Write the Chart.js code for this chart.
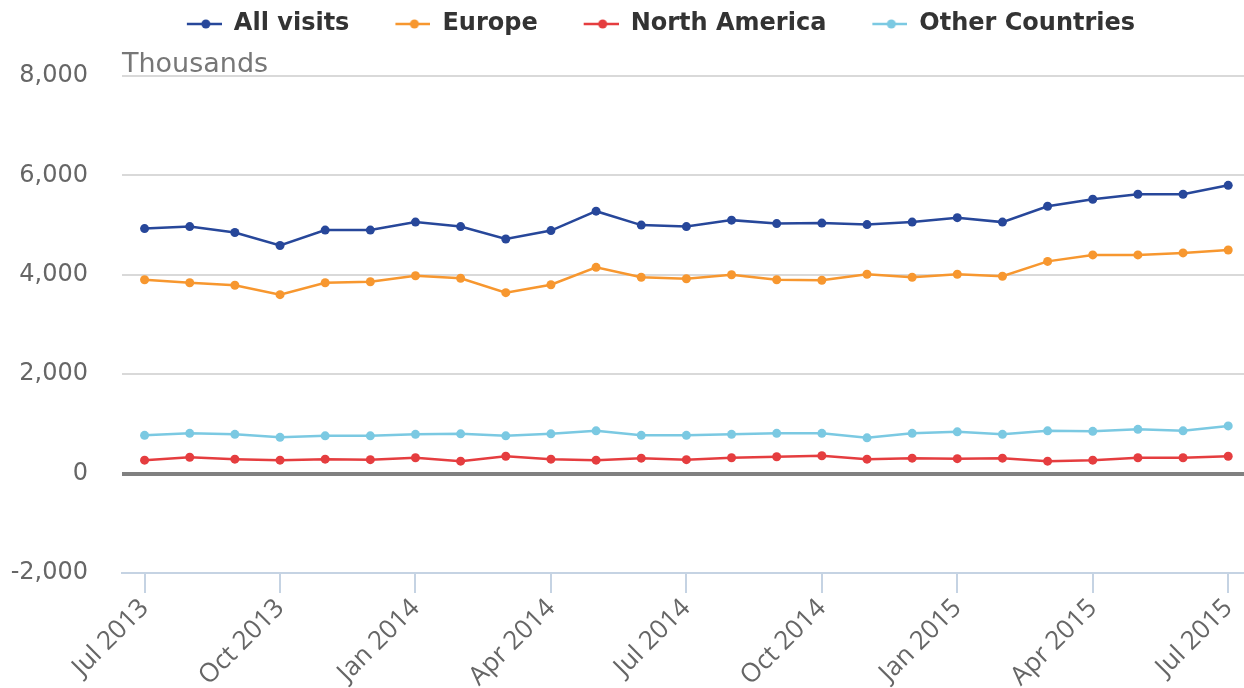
<!DOCTYPE html>
<html>
<head>
<meta charset="utf-8">
<script src="https://cdn.jsdelivr.net/npm/chart.js@4.4.1/dist/chart.umd.min.js"></script>
<style>
  html, body { margin: 0; padding: 0; background: #ffffff; overflow: hidden; }
  #wrap { width: 1244px; height: 688px; position: relative; overflow: hidden; }
  #c { display: block; }
</style>
</head>
<body>
<div id="wrap"><canvas id="c"></canvas></div>
<script>
const months = ['Jul 2013','Aug 2013','Sep 2013','Oct 2013','Nov 2013','Dec 2013','Jan 2014','Feb 2014','Mar 2014','Apr 2014','May 2014','Jun 2014','Jul 2014','Aug 2014','Sep 2014','Oct 2014','Nov 2014','Dec 2014','Jan 2015','Feb 2015','Mar 2015','Apr 2015','May 2015','Jun 2015','Jul 2015'];
const labelledMonths = ['Jul 2013','Oct 2013','Jan 2014','Apr 2014','Jul 2014','Oct 2014','Jan 2015','Apr 2015','Jul 2015'];
const yTicks = [-2000, 0, 2000, 4000, 6000, 8000];
const seriesNames = ['All visits', 'Europe', 'North America', 'Other Countries'];
const allVisits = [4930, 4970, 4850, 4590, 4900, 4900, 5060, 4970, 4720, 4890, 5280, 5000, 4970, 5100, 5030, 5040, 5010, 5060, 5150, 5060, 5380, 5520, 5620, 5620, 5800];
const europe = [3900, 3840, 3790, 3600, 3840, 3860, 3980, 3930, 3640, 3800, 4150, 3950, 3920, 4000, 3900, 3890, 4010, 3950, 4010, 3970, 4270, 4400, 4400, 4440, 4500];
const northAmerica = [270, 330, 290, 270, 290, 280, 320, 250, 350, 290, 270, 310, 280, 320, 340, 360, 290, 310, 300, 310, 250, 270, 320, 320, 350];
const otherCountries = [770, 810, 790, 730, 760, 760, 790, 800, 760, 800, 860, 770, 770, 790, 810, 810, 720, 810, 840, 790, 860, 850, 890, 860, 960];
const colors = ['#27479a', '#f7972f', '#e53d3f', '#7bc9e2'];

const seriesValues = [allVisits, europe, northAmerica, otherCountries];

function legendMarker(color) {
  const cv = document.createElement('canvas');
  cv.width = 71; cv.height = 12;
  const g = cv.getContext('2d');
  g.strokeStyle = color; g.lineWidth = 2.5;
  g.beginPath(); g.moveTo(36, 6); g.lineTo(71, 6); g.stroke();
  g.fillStyle = color;
  g.beginPath(); g.arc(55, 6, 4.5, 0, Math.PI * 2); g.fill();
  return cv;
}
const markers = colors.map(legendMarker);

const datasets = seriesNames.map((name, i) => ({
  label: name,
  data: seriesValues[i].map((v, k) => ({ x: k, y: v })),
  borderColor: colors[i],
  backgroundColor: colors[i],
  pointBackgroundColor: colors[i],
  pointBorderColor: colors[i],
  pointRadius: 4.5,
  pointBorderWidth: 0,
  borderWidth: 2.5,
  tension: 0
}));

const thousandsPlugin = {
  id: 'thousands',
  afterDraw(chart) {
    const ctx = chart.ctx;
    const y = chart.scales.y.getPixelForValue(yTicks[yTicks.length - 1]);
    ctx.save();
    ctx.font = '27px "DejaVu Sans"';
    ctx.fillStyle = '#777777';
    ctx.textAlign = 'left';
    ctx.textBaseline = 'alphabetic';
    ctx.fillText('Thousands', chart.chartArea.left, y - 4);
    ctx.restore();
  }
};

const legendPlacePlugin = {
  id: 'legendPlace',
  beforeInit(chart) {
    const origFit = chart.legend.fit;
    chart.legend.fit = function () {
      origFit.call(this);
      this.height = 76;
    };
  },
  afterLayout(chart) {
    chart.legend.left = 42;
    chart.legend.top = 2;
  }
};

new Chart(document.getElementById('c'), {
  type: 'line',
  data: { datasets },
  plugins: [legendPlacePlugin, thousandsPlugin],
  options: {
    responsive: true,
    maintainAspectRatio: false,
    animation: false,
    layout: { autoPadding: false, padding: { left: 0, right: 0, top: 0, bottom: 0 } },
    plugins: {
      tooltip: { enabled: false },
      legend: {
        position: 'top',
        align: 'center',
        labels: {
          usePointStyle: true,
          pointStyleWidth: 71,
          padding: 10,
          color: '#333333',
          font: { family: '"DejaVu Sans"', size: 24, weight: 'bold' },
          generateLabels(chart) {
            return chart.data.datasets.map((ds, i) => ({
              text: ds.label,
              pointStyle: markers[i],
              fillStyle: colors[i],
              strokeStyle: colors[i],
              lineWidth: 0,
              hidden: false,
              datasetIndex: i,
              fontColor: '#333333'
            }));
          }
        }
      }
    },
    scales: {
      x: {
        type: 'linear',
        min: -0.5,
        max: months.length - 1 + 0.35,
        afterBuildTicks(scale) {
          scale.ticks = labelledMonths.map(m => ({ value: months.indexOf(m) }));
        },
        afterFit(scale) {
          scale.height = 115;
          scale.paddingLeft = 0;
          scale.paddingRight = 0;
        },
        ticks: {
          autoSkip: false,
          maxRotation: 45,
          minRotation: 45,
          padding: 0,
          color: '#666666',
          font: { family: '"Open Sans"', size: 26 },
          callback: (v) => months[v]
        },
        grid: {
          display: true,
          drawOnChartArea: false,
          drawTicks: true,
          tickLength: 20,
          color: '#c5d3e3',
          lineWidth: 2
        },
        border: { display: true, color: '#c5d3e3', width: 2 }
      },
      y: {
        min: yTicks[0],
        max: yTicks[yTicks.length - 1],
        afterBuildTicks(scale) {
          scale.ticks = yTicks.map(v => ({ value: v }));
        },
        afterFit(scale) { scale.width = 122; },
        ticks: {
          padding: 34,
          color: '#666666',
          font: { family: '"DejaVu Sans"', size: 24 },
          callback: (v) => v.toLocaleString('en-US')
        },
        grid: {
          drawTicks: false,
          color: (c) => c.tick && c.tick.value === 0 ? '#808080' : (c.tick && c.tick.value === yTicks[0] ? 'rgba(0,0,0,0)' : '#d9d9d9'),
          lineWidth: (c) => c.tick && c.tick.value === 0 ? 4 : 2
        },
        border: { display: false }
      }
    }
  }
});
</script>
</body>
</html>
